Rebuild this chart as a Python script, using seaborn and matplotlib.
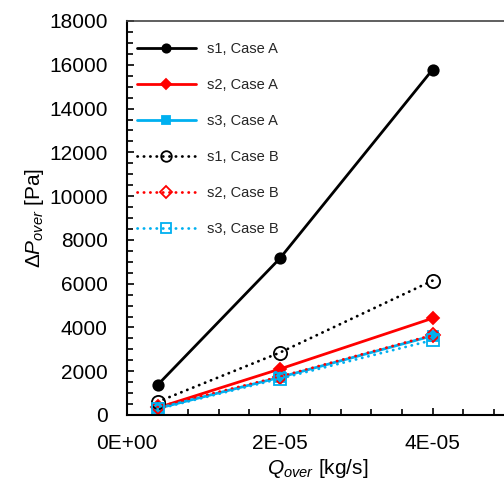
import numpy as np
import pandas as pd
import seaborn as sns
import matplotlib
matplotlib.use("Agg")
import matplotlib.pyplot as plt
from matplotlib.ticker import MultipleLocator, FuncFormatter

# Data
q_over = [4e-6, 2e-5, 4e-5]
s1_case_a = [1370, 7150, 15780]
s2_case_a = [330, 2100, 4420]
s3_case_a = [300, 1720, 3620]
s1_case_b = [600, 2850, 6140]
s2_case_b = [360, 1750, 3650]
s3_case_b = [270, 1660, 3420]
labels = ["s1, Case A", "s2, Case A", "s3, Case A", "s1, Case B", "s2, Case B", "s3, Case B"]

sns.set_theme(style="white")
plt.rcParams['font.family'] = ['Liberation Sans', 'DejaVu Sans']
plt.rcParams['mathtext.fontset'] = 'custom'
plt.rcParams['mathtext.rm'] = 'Liberation Sans'
plt.rcParams['mathtext.it'] = 'Liberation Sans:italic'

fig = plt.figure(figsize=(5.04, 4.88), dpi=100)
ax = fig.add_axes([127/504, 1 - 415/488, (509 - 127)/504, (415 - 21)/488])

blue = '#00B0F0'
dotted = (0, (0.1, 2.2))
series = [
    (s1_case_a, 'black', '-', 'o', 'black', 7.5),
    (s2_case_a, 'red', '-', 'D', 'red', 6.5),
    (s3_case_a, blue, '-', 's', blue, 7.5),
    (s1_case_b, 'black', dotted, 'o', 'none', 9.5),
    (s2_case_b, 'red', dotted, 'D', 'none', 7.5),
    (s3_case_b, blue, dotted, 's', 'none', 8.5),
]
for (vals, col, ls, mk, mfc, ms), lab in zip(series, labels):
    df = pd.DataFrame({'Q': q_over, 'P': vals})
    sns.lineplot(data=df, x='Q', y='P', ax=ax, color=col,
                 marker=mk, markerfacecolor=mfc, markeredgecolor=col,
                 markeredgewidth=1.3, markersize=ms, linewidth=2.0,
                 label=lab)
    line = ax.get_lines()[-1]
    line.set_linestyle(ls)
    line.set_dash_capstyle('round')

ax.set_xlim(0, 5e-5)
ax.set_ylim(0, 18000)
ax.xaxis.set_major_locator(MultipleLocator(2e-5))
ax.xaxis.set_minor_locator(MultipleLocator(4e-6))
ax.yaxis.set_major_locator(MultipleLocator(2000))
ax.yaxis.set_minor_locator(MultipleLocator(500))
ax.xaxis.set_major_formatter(FuncFormatter(lambda v, p: '{:.0E}'.format(v)))
ax.yaxis.set_major_formatter(FuncFormatter(lambda v, p: '{:d}'.format(int(round(v)))))
ax.tick_params(axis='both', which='both', direction='in', labelsize=15, colors='black',
               bottom=True, left=True, top=False, right=False)
ax.tick_params(axis='both', which='major', length=5, width=1.2, pad=14)
ax.tick_params(axis='both', which='minor', length=4, width=1.2)
for s in ax.spines.values():
    s.set_color('black')
    s.set_linewidth(1.5)
ax.spines['right'].set_visible(False)
ax.spines['top'].set_linewidth(1.2)
ax.spines['top'].set_color('#444444')

ax.set_xlabel(r'$\mathit{Q_{over}}$ [kg/s]', fontsize=15, color='black', labelpad=2.5)
ax.set_ylabel(r'$\mathit{\Delta P_{over}}$ [Pa]', fontsize=15, color='black', labelpad=2)

leg = ax.legend(loc='upper left', frameon=False, fontsize=10.5, handlelength=4.0,
                labelspacing=1.5, handletextpad=0.8, borderaxespad=0.3,
                markerscale=0.8, bbox_to_anchor=(0.0, 0.972))
for h in leg.get_lines():
    h.set_dash_capstyle('round')

fig.savefig('out.png', dpi=100)
